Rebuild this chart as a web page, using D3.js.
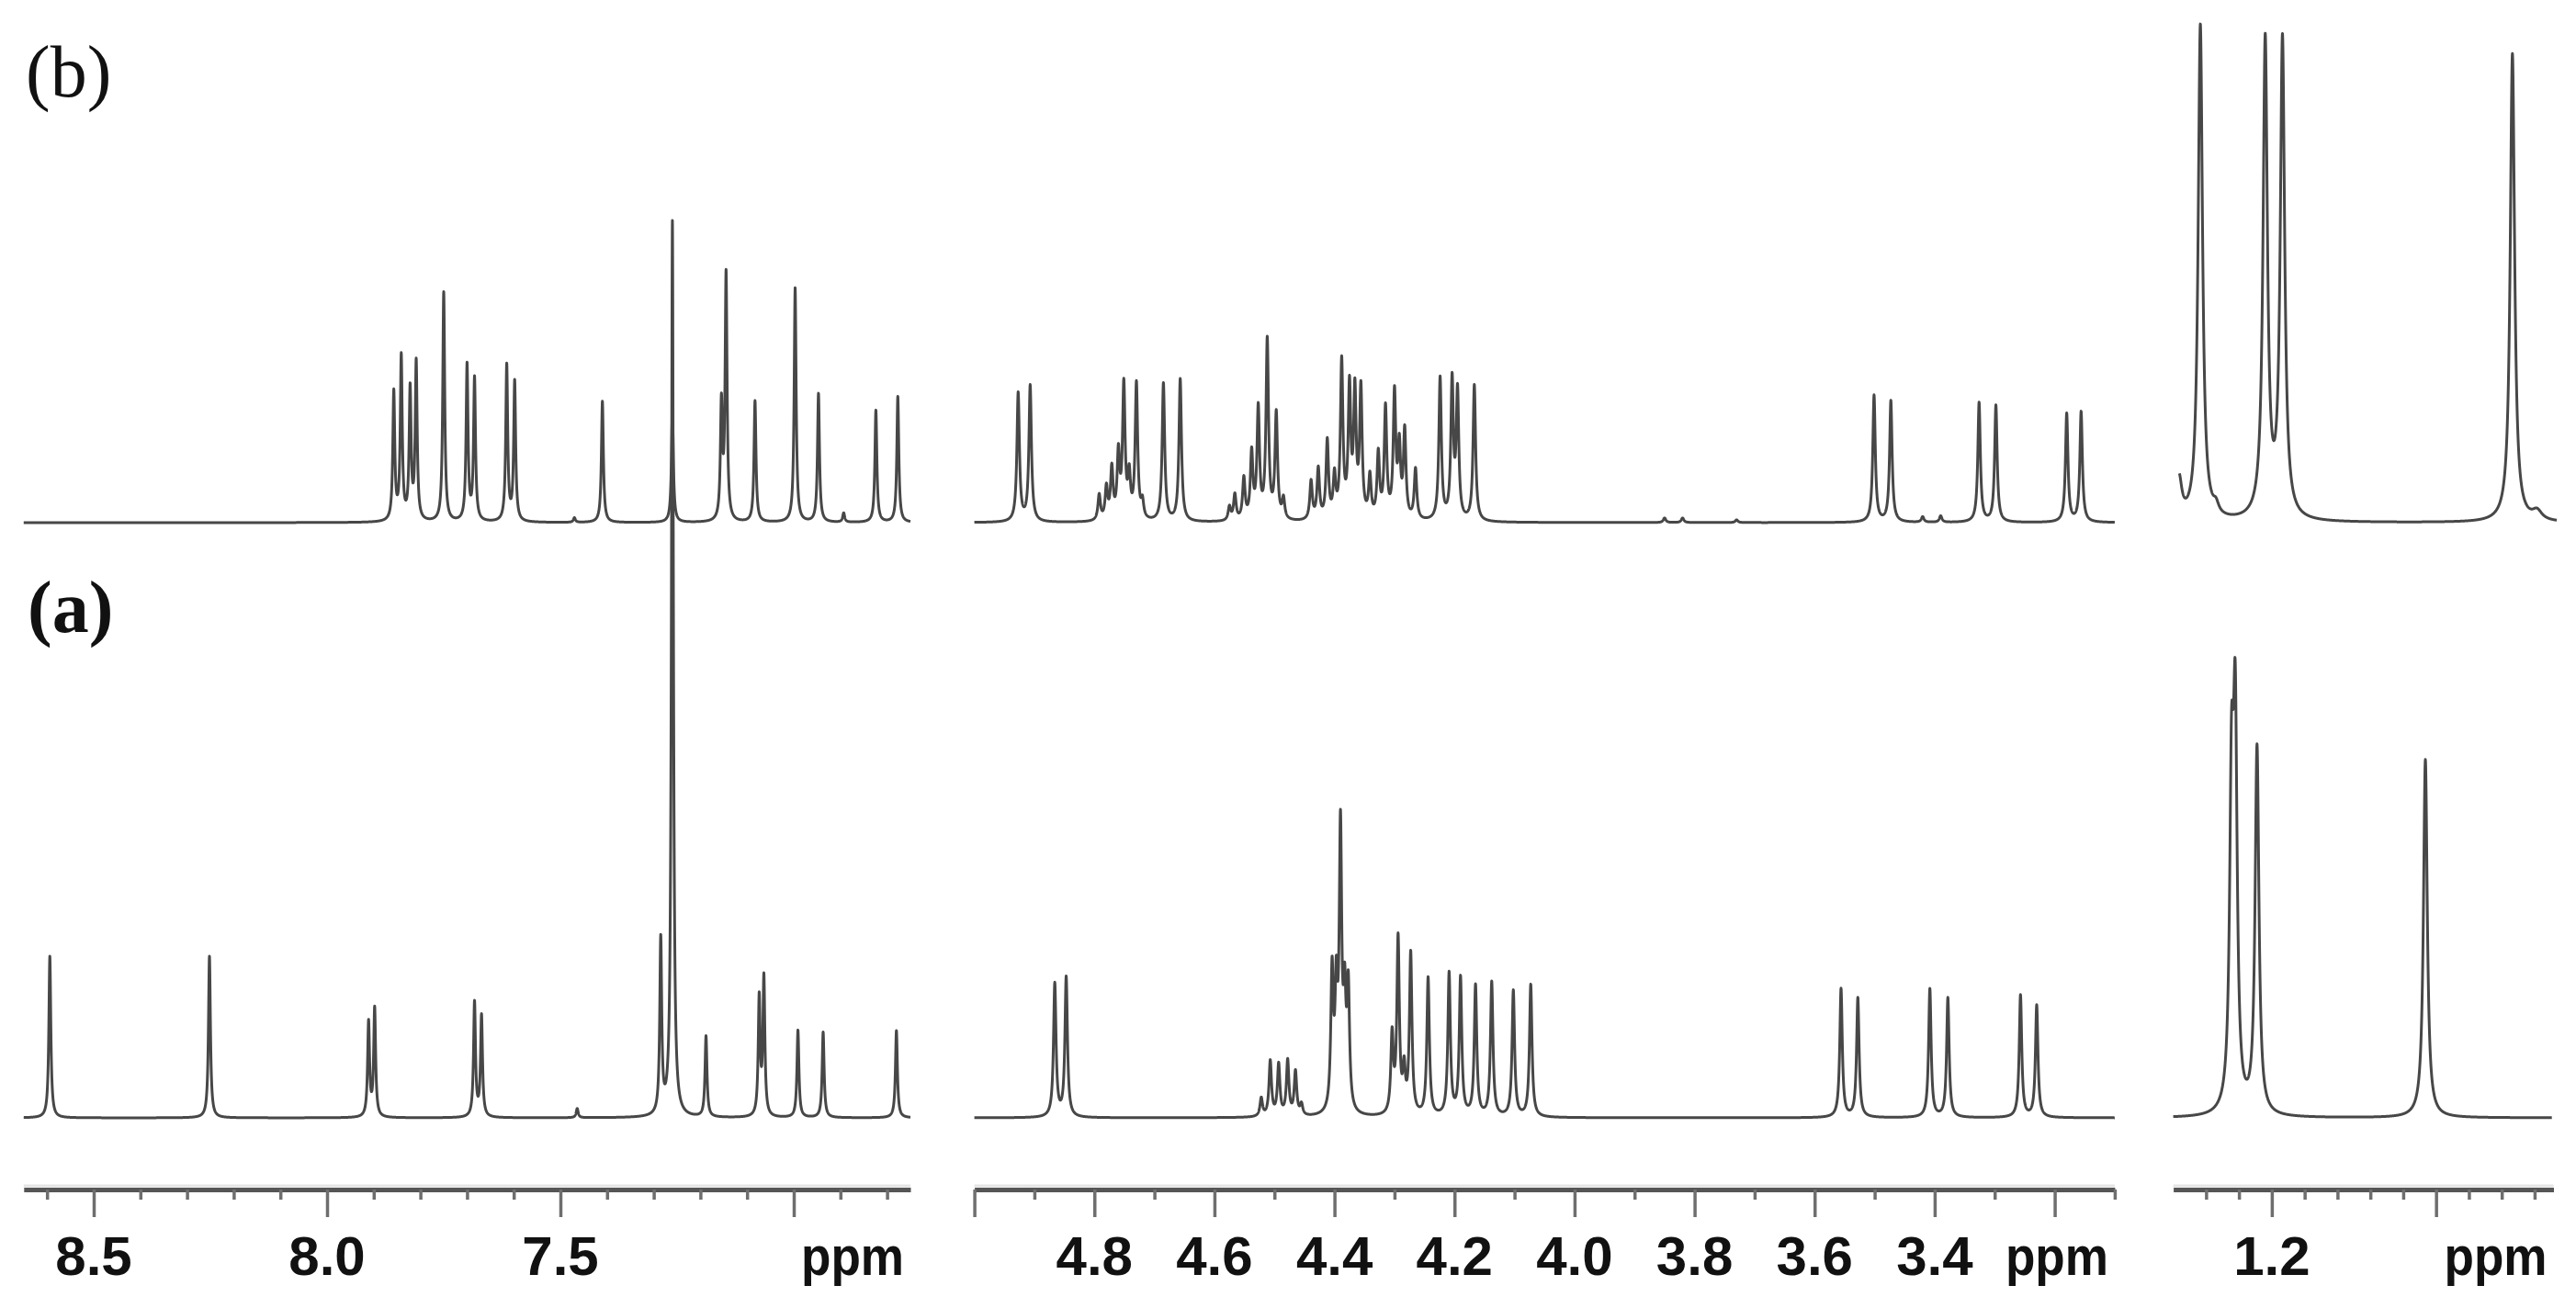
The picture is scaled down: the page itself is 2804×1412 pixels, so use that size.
<!DOCTYPE html>
<html><head><meta charset="utf-8">
<script src="https://cdn.jsdelivr.net/npm/d3@7"></script>
<style>html,body{margin:0;padding:0;background:#fff;} svg{display:block;}</style>
</head><body>
<svg id="chart" width="2804" height="1412"></svg>
<script>
// ---------------- data ----------------
const panelDomains = [[8.65, 6.75], [5.0, 3.1], [1.32, 0.857]];
// trace (b) starts slightly later in the right-hand panel
const traceDomainsB = [[8.65, 6.75], [5.0, 3.1], [1.3125, 0.853]];
const traceDomainsA = [[8.65, 6.75], [5.0, 3.1], [1.32, 0.859]];
const majorTicks = [[8.5, 8.0, 7.5, 7.0], [5.0, 4.8, 4.6, 4.4, 4.2, 4.0, 3.8, 3.6, 3.4, 3.2], [1.2, 1.0]];
const minorTicks = [
  [8.6, 8.4, 8.3, 8.2, 8.1, 7.9, 7.8, 7.7, 7.6, 7.4, 7.3, 7.2, 7.1, 6.9, 6.8],
  [4.9, 4.7, 4.5, 4.3, 4.1, 3.9, 3.7, 3.5, 3.3, 3.1],
  [1.28, 1.24, 1.16, 1.12, 1.08, 1.04, 0.96, 0.92, 0.88]
];
const labeledTicks = [[8.5, 8.0, 7.5], [4.8, 4.6, 4.4, 4.2, 4.0, 3.8, 3.6, 3.4], [1.2]];
const tickLabels = [["8.5", "8.0", "7.5"], ["4.8", "4.6", "4.4", "4.2", "4.0", "3.8", "3.6", "3.4"], ["1.2"]];
const unitLabel = "ppm";
const traceNames = ["(b)", "(a)"];
const defaultLineWidth = 0.0025; // ppm (Lorentzian half width)

// peaks: [ppm, intensity, halfwidth(optional)]
const peaksB = [
  [7.857, 140], [7.841, 178], [7.822, 142], [7.809, 172],
  [7.750, 250],
  [7.700, 170], [7.684, 155],
  [7.615, 170], [7.598, 152],
  [7.470, 5],
  [7.410, 132],
  [7.260, 120],
  [7.155, 125], [7.145, 268],
  [7.083, 132],
  [6.997, 255],
  [6.947, 140],
  [6.893, 10],
  [6.824, 122],
  [6.777, 137],
  [4.927, 140], [4.907, 148],
  [4.792, 28], [4.780, 35], [4.771, 55], [4.760, 70], [4.751, 145], [4.742, 45], [4.730, 148], [4.720, 18],
  [4.685, 150], [4.657, 155],
  [4.575, 15], [4.566, 28], [4.551, 45], [4.538, 72], [4.527, 120], [4.512, 195], [4.497, 115], [4.485, 22],
  [4.439, 42], [4.427, 55], [4.412, 85], [4.400, 45],
  [4.388, 170], [4.375, 140], [4.366, 135], [4.356, 140], [4.341, 45], [4.327, 70], [4.315, 120],
  [4.300, 135], [4.292, 75], [4.283, 95], [4.265, 55],
  [4.224, 155], [4.204, 150], [4.195, 138], [4.167, 148],
  [3.850, 5], [3.820, 5], [3.730, 3],
  [3.501, 138], [3.473, 132],
  [3.420, 6], [3.390, 7],
  [3.326, 130], [3.298, 127],
  [3.180, 118], [3.156, 120],
  [1.313, 45, 0.004], [1.287, 540, 0.0032], [1.268, 10, 0.004], [1.208, 520, 0.0032], [1.187, 520, 0.0032],
  [0.907, 510, 0.0032], [0.877, 10, 0.007]
];

const peaksA = [
  [8.594, 176], [8.252, 176],
  [7.911, 103], [7.898, 118],
  [7.684, 125], [7.669, 110],
  [7.464, 10],
  [7.285, 190],
  [7.260, 975],
  [7.188, 88],
  [7.074, 128], [7.064, 150],
  [6.991, 95], [6.937, 93], [6.780, 95],
  [4.866, 145], [4.847, 152],
  [4.522, 20], [4.507, 60], [4.493, 56], [4.478, 60], [4.465, 48], [4.455, 12],
  [4.404, 150], [4.397, 120], [4.390, 300], [4.383, 110], [4.377, 130],
  [4.304, 85], [4.294, 190], [4.284, 45], [4.273, 175],
  [4.244, 150], [4.209, 155], [4.190, 150], [4.165, 142], [4.138, 146], [4.102, 137], [4.073, 144],
  [3.556, 140], [3.528, 130], [3.408, 140], [3.378, 130], [3.257, 133], [3.230, 122],
  [1.249, 330, 0.0028], [1.2445, 400, 0.0028], [1.218, 400, 0.0028], [1.013, 390, 0.0028]
];

// ---------------- layout ----------------
const panelX = [[25.8, 991], [1060.6, 2301.9], [2365.6, 2779.5]];
const axisY = 1295;
const labelY = 1388;
const traces = [
  {name: traceNames[0], peaks: peaksB, domains: traceDomainsB, base: 569, labelX: 28, labelY: 105, weight: "normal"},
  {name: traceNames[1], peaks: peaksA, domains: traceDomainsA, base: 1217, labelX: 30, labelY: 688, weight: "bold"}
];
const lineColor = "#474747";

const svg = d3.select("#chart");
svg.append("rect").attr("width", 2804).attr("height", 1412).attr("fill", "#fff");

function intensity(ppm, peaks) {
  let s = 0;
  for (const p of peaks) {
    const w = p[2] || defaultLineWidth;
    const d = (ppm - p[0]) / w;
    s += p[1] / (1 + d * d);
  }
  return s;
}

const xScales = panelDomains.map((dom, i) => d3.scaleLinear().domain(dom).range(panelX[i]));

// spectra
traces.forEach(tr => {
  const y = d3.scaleLinear().domain([0, 1000]).range([tr.base, tr.base - 1000]);
  tr.domains.forEach((dom, i) => {
    const x = xScales[i];
    const step = 0.0002;
    let pts = d3.range(dom[0], dom[1], -step);
    pts.push(dom[1]);
    tr.peaks.forEach(p => { if (p[0] <= dom[0] && p[0] >= dom[1]) pts.push(p[0]); });
    pts.sort((a, b) => b - a);
    const data = pts.map(v => [v, intensity(v, tr.peaks)]);
    const line = d3.line().x(d => x(d[0])).y(d => y(d[1]));
    svg.append("path").datum(data)
      .attr("d", line)
      .attr("fill", "none")
      .attr("stroke", lineColor)
      .attr("stroke-width", 3)
      .attr("stroke-linejoin", "round");
  });
  svg.append("text")
    .attr("x", tr.labelX).attr("y", tr.labelY)
    .attr("font-family", "'Liberation Serif', 'Times New Roman', serif")
    .attr("font-size", 80)
    .attr("font-weight", tr.weight)
    .attr("fill", "#111")
    .text(tr.name);
});

// axes
panelDomains.forEach((dom, i) => {
  const x = xScales[i];
  svg.append("line")
    .attr("x1", panelX[i][0]).attr("x2", panelX[i][1])
    .attr("y1", axisY - 4).attr("y2", axisY - 4)
    .attr("stroke", "#e4e4e4").attr("stroke-width", 3);
  const gMajor = svg.append("g").attr("transform", `translate(0,${axisY})`)
    .call(d3.axisBottom(x).tickValues(majorTicks[i]).tickSize(30).tickSizeOuter(0).tickFormat(""));
  const gMinor = svg.append("g").attr("transform", `translate(0,${axisY})`)
    .call(d3.axisBottom(x).tickValues(minorTicks[i]).tickSize(11).tickSizeOuter(0).tickFormat(""));
  gMinor.select(".domain").remove();
  gMajor.select(".domain").attr("stroke", "#555").attr("stroke-width", 5);
  [gMajor, gMinor].forEach(g => g.selectAll(".tick line").attr("stroke", "#6e6e6e").attr("stroke-width", 3.5));
  svg.append("g").selectAll("text").data(labeledTicks[i]).join("text")
    .attr("x", d => x(d)).attr("y", labelY)
    .attr("text-anchor", "middle")
    .attr("font-family", "'Liberation Sans', Arial, sans-serif")
    .attr("font-weight", "bold").attr("font-size", 60).attr("fill", "#111")
    .text((d, k) => tickLabels[i][k]);
  svg.append("text")
    .attr("x", panelX[i][1] - 7).attr("y", labelY)
    .attr("text-anchor", "end")
    .attr("font-family", "'Liberation Sans', Arial, sans-serif")
    .attr("font-weight", "bold").attr("font-size", 60).attr("fill", "#111")
    .attr("textLength", 112).attr("lengthAdjust", "spacingAndGlyphs")
    .text(unitLabel);
});
</script>
</body></html>
